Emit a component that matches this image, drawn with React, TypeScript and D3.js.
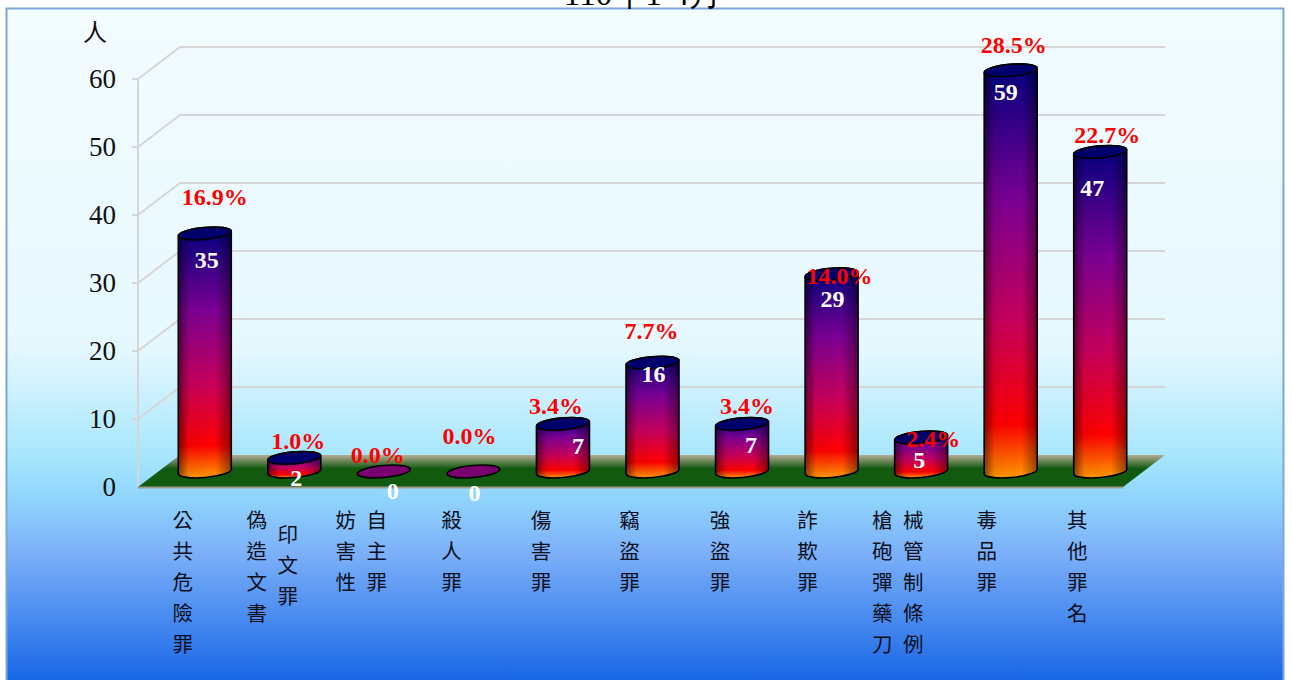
import React from "react";
import * as d3 from "d3";

const title = "110年1-4月";
const unitLabel = "人";
const categories = [
  ["公共危險罪"],
  ["偽造文書", "印文罪"],
  ["妨害性", "自主罪"],
  ["殺人罪"],
  ["傷害罪"],
  ["竊盜罪"],
  ["強盜罪"],
  ["詐欺罪"],
  ["槍砲彈藥刀", "械管制條例"],
  ["毒品罪"],
  ["其他罪名"],
];
const values = [35, 2, 0, 0, 7, 16, 7, 29, 5, 59, 47];
const percents = ["16.9%", "1.0%", "0.0%", "0.0%", "3.4%", "7.7%", "3.4%", "14.0%", "2.4%", "28.5%", "22.7%"];
const yTicks = [0, 10, 20, 30, 40, 50, 60];

// hand-placed label nudges, relative to each bar's top centre
const pctNudge = [[10, -28], [4, -8], [-6, -8], [-4, -27], [-7, -9], [-1, -23], [5, -9], [8, 10], [12, 10], [3, -17], [7, -8]];
const valNudge = [[2, 35], [2, 29], [9, 28], [1, 30], [15, 31], [1, 20], [9, 30], [1, 33], [-2, 31], [-5, 30], [-8, 45]];
const secondColumnDrop = [0, 14, 0, 0, 0, 0, 0, 0, 0, 0, 0];
const labelNudge = [0, -11, -11.5, 0, 0, -1, 0, -2, -12.5, -2, -1];

const W = 1292, H = 680;
const x0 = 138, x1 = 1123, yBottom = 487, yTop = 79, dx = 42, dy = -32;
const rx = 26.5, ry = 6, rot = -5;
const tilt = rx * Math.sin((-rot * Math.PI) / 180);

export default function App() {
  const y = d3.scaleLinear().domain([0, 60]).range([yBottom, yTop]);
  const x = d3.scaleBand<number>().domain(d3.range(categories.length)).range([x0, x1]);
  const cx = (i: number) => x(i)! + x.bandwidth() / 2 + dx / 2 + 1;
  const yBar = (v: number) => y(v) + dy / 2;

  const sidePath = (c: number, t: number, b: number) =>
    `M${c - rx},${t + tilt} L${c - rx},${b + tilt} A${rx},${ry} ${rot} 0 0 ${c + rx},${b - tilt} L${c + rx},${t - tilt} A${rx},${ry} ${rot} 0 0 ${c - rx},${t + tilt} Z`;

  const serif = "'Liberation Serif', serif";
  return (
    <svg width={W} height={H} style={{ position: "absolute", left: 0, top: 0 }}>
      <defs>
        <linearGradient id="bg" x1="0" y1="0" x2="0" y2="1">
          <stop offset="0" stopColor="#f3fcff" />
          <stop offset="0.5" stopColor="#e6f8ff" />
          <stop offset="0.66" stopColor="#a6e6fd" />
          <stop offset="0.72" stopColor="#90d4fe" />
          <stop offset="0.8" stopColor="#7cb0f8" />
          <stop offset="1" stopColor="#1262e6" />
        </linearGradient>
        <linearGradient id="bar" x1="0" y1="0" x2="0" y2="1">
          <stop offset="0" stopColor="#000080" />
          <stop offset="0.33" stopColor="#7c0094" />
          <stop offset="0.62" stopColor="#c8005c" />
          <stop offset="0.87" stopColor="#ff0000" />
          <stop offset="1" stopColor="#ff9a00" />
        </linearGradient>
        <linearGradient id="shade" x1="0" y1="0" x2="1" y2="0">
          <stop offset="0" stopColor="#000" stopOpacity="0.5" />
          <stop offset="0.2" stopColor="#000" stopOpacity="0.05" />
          <stop offset="0.7" stopColor="#000" stopOpacity="0" />
          <stop offset="1" stopColor="#000" stopOpacity="0.42" />
        </linearGradient>
        <linearGradient id="floor" x1="0" y1="0" x2="0" y2="1">
          <stop offset="0" stopColor="#b4ab94" />
          <stop offset="0.42" stopColor="#125a10" />
          <stop offset="1" stopColor="#125a10" />
        </linearGradient>
      </defs>

      <rect x={6.5} y={8.5} width={1277} height={680} fill="url(#bg)" stroke="#7ba6dc" strokeWidth={2} />
      <text x={643} y={5} textAnchor="middle" fontFamily={serif} fontSize={33} fill="#000">{title}</text>

      {yTicks.map((t) => (
        <g key={t}>
          {t > 0 && (
            <polyline
              points={`${x0 - 6},${y(t)} ${x0},${y(t)} ${x0 + dx},${y(t) + dy} ${x1 + dx},${y(t) + dy}`}
              fill="none" stroke="#d6d6d6" strokeWidth={2}
            />
          )}
          <text x={116} y={y(t) + 9} textAnchor="end" fontFamily={serif} fontSize={27} fill="#111">{t}</text>
        </g>
      ))}
      <line x1={x0} y1={yTop} x2={x0} y2={yBottom} stroke="#d6d6d6" strokeWidth={2} />
      <text x={95} y={41} textAnchor="middle" fontFamily="'Noto Sans CJK TC', serif" fontSize={24} fill="#111">{unitLabel}</text>

      <polygon
        points={`${x0},${yBottom} ${x0 + dx},${yBottom + dy} ${x1 + dx},${yBottom + dy} ${x1},${yBottom}`}
        fill="url(#floor)"
      />
      <line x1={x0} y1={yBottom + 0.5} x2={x1} y2={yBottom + 0.5} stroke="#9a9a88" strokeWidth={2} />

      {values.map((v, i) => {
        const c = cx(i), t = yBar(v) + 0.5, b = yBar(0) + 0.5;
        return (
          <g key={i}>
            {v > 0 && (
              <>
                <path d={sidePath(c, t, b)} fill="url(#bar)" stroke="#000" strokeWidth={1.6} />
                <path d={sidePath(c, t, b)} fill="url(#shade)" stroke="none" />
              </>
            )}
            <ellipse
              cx={c} cy={t} rx={rx} ry={ry}
              transform={`rotate(${rot} ${c} ${t})`}
              fill={v > 0 ? "#00006c" : "#7a0070"}
              stroke="#000" strokeWidth={1.6}
            />
          </g>
        );
      })}

      {values.map((v, i) => (
        <text key={i} x={cx(i) + valNudge[i][0]} y={yBar(v) + valNudge[i][1]} textAnchor="middle"
          fontFamily={serif} fontWeight="bold" fontSize={24} fill="#fff">{v}</text>
      ))}
      {percents.map((p, i) => (
        <text key={i} x={cx(i) + pctNudge[i][0]} y={yBar(values[i]) + pctNudge[i][1]} textAnchor="middle"
          fontFamily={serif} fontWeight="bold" fontSize={24} fill="#ff0000">{p}</text>
      ))}

      {categories.map((cols, i) =>
        cols.map((col, k) =>
          Array.from(col).map((ch, n) => (
            <text key={`${i}-${k}-${n}`}
              x={cx(i) - 22 + labelNudge[i] + (cols.length > 1 ? (k - 0.5) * 31 + 11 : 0)}
              y={528 + n * 31 + (k === 1 ? secondColumnDrop[i] : 0)}
              textAnchor="middle" fontFamily="'Noto Sans CJK TC', serif" fontSize={20.5} fill="#0a1020">{ch}</text>
          ))
        )
      )}
    </svg>
  );
}
